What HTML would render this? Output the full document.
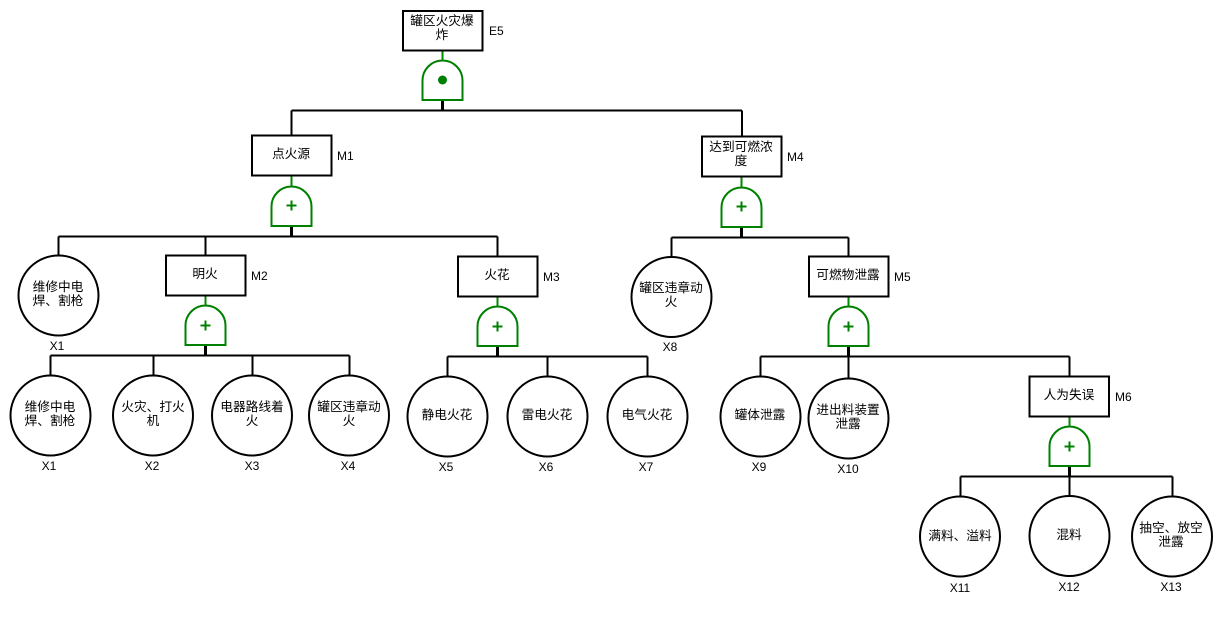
<!DOCTYPE html>
<html><head><meta charset="utf-8"><style>
html,body{margin:0;padding:0;background:#fff;width:1222px;height:637px;overflow:hidden}
svg{display:block}
.b{fill:#fff;stroke:#000;stroke-width:2}
.l{fill:none;stroke:#000;stroke-width:2}
.h{fill:none;stroke:#000;stroke-width:3}
.s{fill:none;stroke:#008a00;stroke-width:2}
.g{fill:#fff;stroke:#008000;stroke-width:2}
.p{fill:none;stroke:#008000;stroke-width:2}
text{font-family:"Liberation Sans","Noto Sans CJK SC",sans-serif;font-size:12px;fill:#000;text-anchor:middle}
.c{font-family:"Noto Sans CJK SC","Liberation Sans",sans-serif;font-size:12.7px}
.n{text-anchor:start}
</style></head><body>
<svg width="1222" height="637" viewBox="0 0 1222 637" xmlns="http://www.w3.org/2000/svg">
<!-- connectors -->
<path class="l" d="M291.5 110.500H742M291.500 110.500V135M742 110.500V137"/>
<path class="l" d="M58.500 236.500H497.500M58.500 236.500V255M205.500 236.500V255M497.500 236.500V256"/>
<path class="l" d="M671.500 237.500H848.500M671.500 237.500V257M848.500 237.500V257"/>
<path class="l" d="M50.500 355.500H349.500M50.500 355.500V375M153.500 355.500V375M252.500 355.500V375M349.500 355.500V375"/>
<path class="l" d="M447.500 356.500H647.500M447.500 356.500V377M547.500 356.500V377M647.500 356.500V377"/>
<path class="l" d="M760.500 356.500H1069.500M760.500 356.500V377M848.500 356.500V379M1069.500 356.500V376"/>
<path class="l" d="M960.500 476.500H1172.500M960.500 476.500V497M1069.500 476.500V496M1172.500 476.500V497"/>
<path class="h" d="M442.500 100V110M291.500 226V236M741.500 227V237M205.500 345V355M497.500 346V356M848.500 346V356M1069.500 466V476"/>
<path class="s" d="M442.500 50V60M291.500 176V186M741.500 177V187M205.500 295V305M497.500 296V306M848.500 296V306M1069.500 416V426"/>
<!-- gates -->
<g id="gates">
<path class="g" d="M422.500 100V80.500A20 20 0 0 1 462.500 80.500V100Z"/><circle cx="442.500" cy="80" r="4.500" fill="#008000"/>
<path class="g" d="M271.500 226V206.500A20 20 0 0 1 311.500 206.500V226Z"/><path class="p" d="M286.500 205.500H296.500M291.500 200.500V210.500"/>
<path class="g" d="M721.500 227V207.500A20 20 0 0 1 761.500 207.500V227Z"/><path class="p" d="M736.500 206.500H746.500M741.500 201.500V211.500"/>
<path class="g" d="M185.500 345V325.500A20 20 0 0 1 225.500 325.500V345Z"/><path class="p" d="M200.500 325.500H210.500M205.500 320.500V330.500"/>
<path class="g" d="M477.500 346V326.500A20 20 0 0 1 517.500 326.500V346Z"/><path class="p" d="M492.500 326.500H502.500M497.500 321.500V331.500"/>
<path class="g" d="M828.500 346V326.500A20 20 0 0 1 868.500 326.500V346Z"/><path class="p" d="M843.500 326.500H853.500M848.500 321.500V331.500"/>
<path class="g" d="M1049.500 466V446.500A20 20 0 0 1 1089.500 446.500V466Z"/><path class="p" d="M1064.500 446.500H1074.500M1069.500 441.500V451.500"/>
</g>
<!-- boxes -->
<rect class="b" x="403" y="11" width="79.500" height="39.500"/>
<rect class="b" x="252" y="135.500" width="79.500" height="40"/>
<rect class="b" x="702" y="136.500" width="79.500" height="40"/>
<rect class="b" x="166" y="255.500" width="79.500" height="40"/>
<rect class="b" x="458" y="256.500" width="79.500" height="40"/>
<rect class="b" x="809" y="256.500" width="79.500" height="40"/>
<rect class="b" x="1029.500" y="376.500" width="79.500" height="40"/>
<!-- circles -->
<circle class="b" cx="58.500" cy="295.500" r="40"/>
<circle class="b" cx="671.500" cy="297" r="40"/>
<circle class="b" cx="50.500" cy="415.500" r="40"/>
<circle class="b" cx="153" cy="415.500" r="40"/>
<circle class="b" cx="252" cy="415.500" r="40"/>
<circle class="b" cx="349" cy="415.500" r="40"/>
<circle class="b" cx="447.500" cy="416.500" r="40"/>
<circle class="b" cx="547.500" cy="416.500" r="40"/>
<circle class="b" cx="647.500" cy="416.500" r="40"/>
<circle class="b" cx="760.500" cy="416.500" r="40"/>
<circle class="b" cx="848.500" cy="418.500" r="40"/>
<circle class="b" cx="960" cy="536.500" r="40"/>
<circle class="b" cx="1069.500" cy="536" r="40"/>
<circle class="b" cx="1172" cy="536.500" r="40"/>
<!-- box labels -->
<text class="c" x="442" y="25">罐区火灾爆</text><text class="c" x="442" y="39">炸</text>
<text class="c" x="291" y="158">点火源</text>
<text class="c" x="741" y="151">达到可燃浓</text><text class="c" x="741" y="165">度</text>
<text class="c" x="205" y="278">明火</text>
<text class="c" x="497" y="279">火花</text>
<text class="c" x="848" y="279">可燃物泄露</text>
<text class="c" x="1069" y="399">人为失误</text>
<!-- circle labels -->
<text class="c" x="58" y="291">维修中电</text><text class="c" x="58" y="305">焊、割枪</text>
<text class="c" x="671" y="292">罐区违章动</text><text class="c" x="671" y="306">火</text>
<text class="c" x="50" y="411">维修中电</text><text class="c" x="50" y="425">焊、割枪</text>
<text class="c" x="153" y="411">火灾、打火</text><text class="c" x="153" y="425">机</text>
<text class="c" x="252" y="411">电器路线着</text><text class="c" x="252" y="425">火</text>
<text class="c" x="349" y="411">罐区违章动</text><text class="c" x="349" y="425">火</text>
<text class="c" x="447" y="419">静电火花</text>
<text class="c" x="547" y="419">雷电火花</text>
<text class="c" x="647" y="419">电气火花</text>
<text class="c" x="760" y="419">罐体泄露</text>
<text class="c" x="848" y="414">进出料装置</text><text class="c" x="848" y="428">泄露</text>
<text class="c" x="960" y="540">满料、溢料</text>
<text class="c" x="1069" y="539">混料</text>
<text class="c" x="1171" y="532">抽空、放空</text><text class="c" x="1171" y="546">泄露</text>
<!-- ids -->
<text class="n" x="489" y="35">E5</text>
<text class="n" x="337" y="160">M1</text>
<text class="n" x="787" y="161">M4</text>
<text class="n" x="251" y="280">M2</text>
<text class="n" x="543" y="281">M3</text>
<text class="n" x="894" y="281">M5</text>
<text class="n" x="1115" y="401">M6</text>
<text x="57" y="350">X1</text>
<text x="670" y="351">X8</text>
<text x="49" y="470">X1</text>
<text x="152" y="470">X2</text>
<text x="252" y="470">X3</text>
<text x="348" y="470">X4</text>
<text x="446" y="471">X5</text>
<text x="546" y="471">X6</text>
<text x="646" y="471">X7</text>
<text x="759" y="471">X9</text>
<text x="848" y="473">X10</text>
<text x="960" y="592">X11</text>
<text x="1069" y="591">X12</text>
<text x="1171" y="591">X13</text>
</svg>
</body></html>
